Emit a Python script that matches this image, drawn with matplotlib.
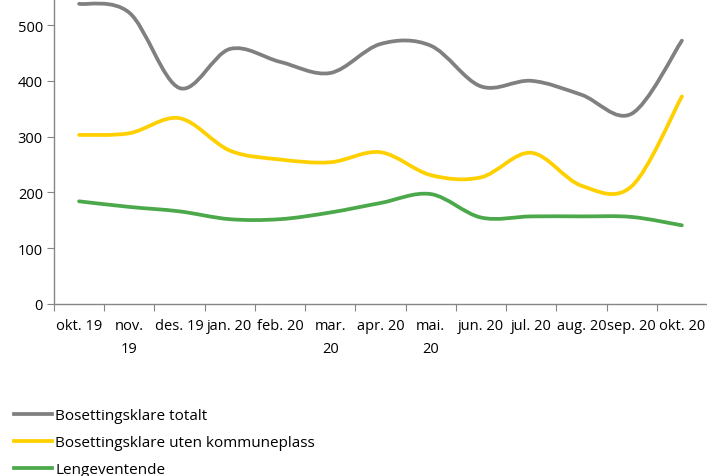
import numpy as np
import matplotlib
matplotlib.use("Agg")
import matplotlib.pyplot as plt
from matplotlib.path import Path
from matplotlib.patches import PathPatch
from matplotlib.lines import Line2D

plt.rcParams['font.family'] = ['Open Sans', 'DejaVu Sans']

categories = ["okt. 19", "nov.\n19", "des. 19", "jan. 20", "feb. 20", "mar.\n20", "apr. 20",
              "mai.\n20", "jun. 20", "jul. 20", "aug. 20", "sep. 20", "okt. 20"]
totalt = [538, 522, 387, 457, 434, 414, 466, 463, 390, 400, 375, 341, 472]
uten_kommuneplass = [303, 306, 333, 275, 259, 254, 272, 231, 227, 271, 212, 211, 372]
lengeventende = [184, 174, 166, 152, 152, 164, 181, 197, 155, 157, 157, 156, 141]

series = [
    ("Bosettingsklare totalt", totalt, "#808080"),
    ("Bosettingsklare uten kommuneplass", uten_kommuneplass, "#FFD000"),
    ("Lengeventende", lengeventende, "#4BA84B"),
]

W, H = 707, 477
fig = plt.figure(figsize=(W / 100, H / 100), dpi=100)
ax = fig.add_axes([54 / W, (H - 305) / H, (707 - 54) / W, 305 / H])

n = len(categories)
ax.set_xlim(-0.5, n - 0.5)
ax.set_ylim(0, 546.6)


def smooth_path(xs, ys):
    pts = np.column_stack([xs, ys]).astype(float)
    verts = [pts[0]]
    codes = [Path.MOVETO]
    for i in range(len(pts) - 1):
        p0 = pts[i - 1] if i > 0 else pts[i]
        p1 = pts[i]
        p2 = pts[i + 1]
        p3 = pts[i + 2] if i + 2 < len(pts) else pts[i + 1]
        c1 = p1 + (p2 - p0) / 6.0
        c2 = p2 - (p3 - p1) / 6.0
        verts += [c1, c2, p2]
        codes += [Path.CURVE4] * 3
    return Path(verts, codes)


x = np.arange(n)
handles = []
for label, vals, color in series:
    patch = PathPatch(smooth_path(x, vals), facecolor="none", edgecolor=color,
                      lw=2.7, capstyle="round", joinstyle="round")
    ax.add_patch(patch)
    handles.append(Line2D([], [], color=color, lw=2.7, label=label))

for s in ["top", "right"]:
    ax.spines[s].set_visible(False)
for s in ["left", "bottom"]:
    ax.spines[s].set_color("#868686")
    ax.spines[s].set_linewidth(1.0)

fs = 10.5
ax.set_yticks([0, 100, 200, 300, 400, 500])
ax.tick_params(axis="y", length=5, color="#868686", labelsize=fs, pad=3)
ax.set_xticks(np.arange(n + 1) - 0.5)
ax.set_xticklabels([])
ax.set_xticks(x, minor=True)
ax.set_xticklabels(categories, minor=True, fontsize=fs, linespacing=1.75)
ax.tick_params(axis="x", which="major", length=5, color="#868686")
ax.tick_params(axis="x", which="minor", length=0, pad=10)

lfs = 11
fig.legend(handles=handles, loc="upper left", bbox_to_anchor=(14 / W, (H - 409.5) / H),
           frameon=False, fontsize=lfs, handlelength=38 / (lfs * 100 / 72), handletextpad=0.2,
           labelspacing=0.77, borderpad=0, borderaxespad=0)

fig.savefig("out.png", dpi=100)
